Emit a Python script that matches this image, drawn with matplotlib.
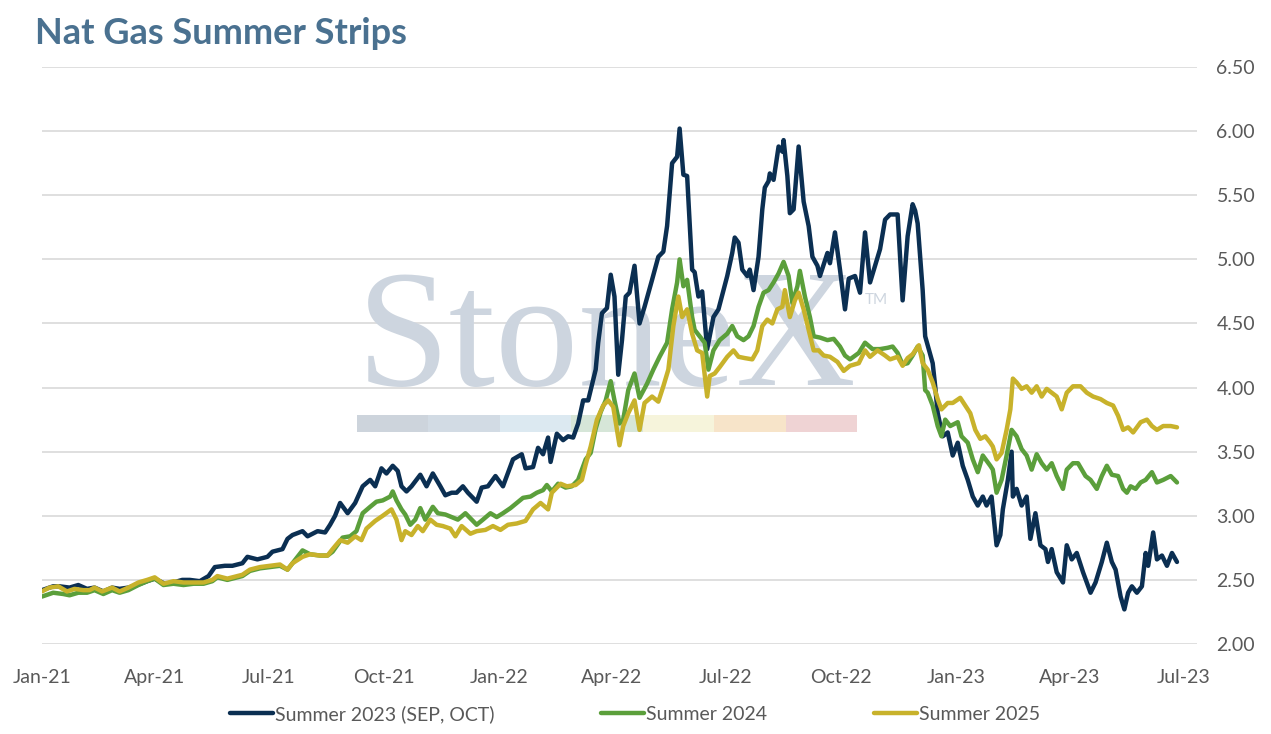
import numpy as np
import pandas as pd
import matplotlib
matplotlib.use("Agg")
import matplotlib.pyplot as plt
import matplotlib.dates as mdates
from matplotlib.patches import Rectangle

# days since 2021-01-01 and strip price ($/MMBtu)
days_23 = [0, 9, 14, 22, 29, 36, 42, 49, 56, 62, 69, 76, 84, 90, 98, 105, 112, 118, 126, 133,
           138, 146, 152, 160, 164, 172, 180, 184, 192, 196, 200, 208, 212, 216, 220, 226, 230, 234, 238, 244,
           250, 256, 262, 266, 271, 275, 280, 284, 287, 291, 295, 302, 307, 312, 318, 322, 327, 331, 336, 340,
           347, 351, 356, 362, 368, 376, 383, 386, 392, 396, 400, 404, 406, 411, 416, 420, 424, 428, 432, 436,
           442, 444, 447, 451, 454, 457, 460, 463, 466, 469, 473, 477, 481, 487, 492, 496, 499, 503, 507, 509,
           512, 515, 519, 521, 524, 527, 531, 536, 540, 547, 551, 553, 556, 559, 563, 565, 568, 572, 575, 577,
           580, 581, 584, 588, 591, 592, 595, 597, 600, 604, 608, 612, 615, 619, 621, 627, 629, 633, 637, 641,
           644, 649, 653, 657, 661, 665, 669, 673, 677, 683, 687, 691, 695, 697, 699, 703, 705, 711, 713, 715,
           719, 723, 727, 731, 735, 739, 743, 747, 751, 754, 758, 762, 765, 767, 771, 774, 775, 778, 782, 786,
           789, 793, 797, 801, 803, 806, 810, 815, 818, 822, 826, 831, 837, 841, 846, 850, 854, 857, 861, 864,
           867, 870, 874, 878, 881, 883, 887, 890, 894, 898, 902, 906]
summer_23 = [2.42, 2.45, 2.45, 2.44, 2.46, 2.43, 2.44, 2.41, 2.44, 2.43, 2.44, 2.46, 2.49, 2.51, 2.47, 2.48, 2.50, 2.50, 2.49, 2.53,
             2.60, 2.61, 2.61, 2.63, 2.68, 2.66, 2.68, 2.72, 2.74, 2.82, 2.85, 2.88, 2.84, 2.86, 2.88, 2.87, 2.93, 3.00, 3.10, 3.02,
             3.10, 3.23, 3.28, 3.23, 3.37, 3.33, 3.39, 3.35, 3.23, 3.19, 3.23, 3.32, 3.23, 3.33, 3.23, 3.16, 3.18, 3.18, 3.23, 3.18,
             3.11, 3.22, 3.23, 3.31, 3.23, 3.44, 3.48, 3.37, 3.38, 3.53, 3.48, 3.61, 3.42, 3.64, 3.59, 3.62, 3.61, 3.72, 3.90, 3.90,
             4.14, 4.35, 4.58, 4.62, 4.88, 4.71, 4.10, 4.37, 4.71, 4.74, 4.95, 4.50, 4.63, 4.84, 5.02, 5.06, 5.26, 5.75, 5.80, 6.02,
             5.66, 5.65, 4.92, 4.90, 4.71, 4.75, 4.30, 4.55, 4.61, 4.87, 5.05, 5.17, 5.13, 4.92, 4.87, 4.92, 4.76, 5.02, 5.39, 5.56,
             5.61, 5.67, 5.62, 5.88, 5.84, 5.93, 5.65, 5.36, 5.39, 5.88, 5.45, 5.26, 5.02, 4.95, 4.87, 5.05, 4.97, 5.21, 4.92, 4.61,
             4.85, 4.87, 4.74, 5.21, 4.82, 4.95, 5.08, 5.31, 5.35, 5.35, 4.68, 5.18, 5.43, 5.38, 5.28, 4.76, 4.40, 4.19, 4.01, 3.80,
             3.62, 3.65, 3.47, 3.57, 3.39, 3.28, 3.15, 3.08, 3.15, 3.08, 3.15, 2.77, 2.85, 3.05, 3.28, 3.50, 3.15, 3.21, 3.08, 3.15,
             2.82, 3.02, 2.77, 2.74, 2.64, 2.74, 2.56, 2.48, 2.77, 2.66, 2.71, 2.56, 2.40, 2.48, 2.64, 2.79, 2.64, 2.58, 2.37, 2.27,
             2.40, 2.45, 2.40, 2.45, 2.71, 2.61, 2.87, 2.66, 2.69, 2.61, 2.71, 2.64]

days_24 = [0, 9, 17, 22, 29, 36, 42, 49, 56, 62, 69, 77, 84, 90, 97, 105, 113, 121, 129, 136,
           140, 148, 156, 160, 166, 174, 182, 190, 196, 200, 208, 214, 222, 228, 232, 240, 246, 251, 256, 262,
           267, 272, 278, 280, 283, 287, 290, 294, 298, 302, 306, 312, 316, 322, 327, 332, 338, 342, 347, 352,
           358, 363, 368, 374, 379, 384, 390, 395, 400, 403, 407, 412, 418, 423, 428, 434, 438, 442, 446, 450,
           454, 457, 461, 464, 468, 473, 477, 483, 488, 493, 499, 503, 507, 509, 512, 515, 519, 521, 525, 529,
           532, 536, 541, 547, 551, 555, 560, 564, 568, 572, 576, 580, 584, 588, 592, 596, 599, 603, 605, 609,
           613, 616, 621, 627, 632, 637, 641, 645, 652, 657, 663, 669, 675, 679, 683, 687, 691, 695, 699, 703,
           705, 707, 711, 715, 718, 721, 725, 731, 734, 739, 743, 747, 751, 757, 759, 762, 766, 770, 774, 778,
           782, 786, 790, 794, 798, 802, 806, 810, 815, 818, 823, 827, 833, 837, 842, 846, 850, 854, 859, 863,
           866, 869, 873, 877, 881, 886, 890, 895, 901, 906]
summer_24 = [2.37, 2.40, 2.39, 2.38, 2.40, 2.40, 2.42, 2.39, 2.42, 2.40, 2.42, 2.46, 2.49, 2.51, 2.46, 2.47, 2.46, 2.47, 2.47, 2.49,
             2.52, 2.50, 2.52, 2.53, 2.57, 2.59, 2.60, 2.61, 2.58, 2.63, 2.73, 2.70, 2.69, 2.69, 2.72, 2.83, 2.84, 2.88, 3.02, 3.07,
             3.11, 3.12, 3.15, 3.19, 3.12, 3.05, 3.01, 2.93, 2.97, 3.06, 2.97, 3.07, 3.02, 3.01, 2.99, 2.97, 3.02, 2.98, 2.93, 2.97,
             3.02, 2.99, 3.02, 3.06, 3.10, 3.14, 3.15, 3.18, 3.20, 3.24, 3.19, 3.25, 3.22, 3.23, 3.28, 3.44, 3.49, 3.68, 3.81, 3.90,
             4.05, 3.90, 3.72, 3.75, 3.98, 4.11, 3.92, 4.03, 4.14, 4.24, 4.35, 4.61, 4.82, 5.00, 4.79, 4.84, 4.55, 4.45, 4.40, 4.35,
             4.14, 4.29, 4.37, 4.42, 4.48, 4.40, 4.37, 4.40, 4.48, 4.63, 4.74, 4.76, 4.82, 4.89, 4.98, 4.87, 4.66, 4.79, 4.91, 4.71,
             4.55, 4.40, 4.39, 4.37, 4.38, 4.32, 4.25, 4.22, 4.27, 4.35, 4.30, 4.30, 4.31, 4.32, 4.27, 4.18, 4.19, 4.25, 4.32, 4.25,
             3.98, 3.96, 3.86, 3.70, 3.62, 3.75, 3.70, 3.73, 3.62, 3.57, 3.44, 3.34, 3.47, 3.39, 3.36, 3.18, 3.28, 3.47, 3.67, 3.62,
             3.52, 3.47, 3.36, 3.48, 3.41, 3.36, 3.41, 3.31, 3.21, 3.36, 3.41, 3.41, 3.31, 3.28, 3.21, 3.31, 3.39, 3.32, 3.31, 3.21,
             3.18, 3.23, 3.21, 3.26, 3.28, 3.34, 3.26, 3.28, 3.31, 3.26]

days_25 = [0, 6, 13, 20, 26, 33, 38, 42, 48, 56, 62, 69, 77, 84, 90, 97, 105, 113, 121, 129,
           136, 140, 148, 156, 160, 166, 174, 182, 190, 196, 200, 208, 214, 222, 228, 232, 238, 244, 250, 255,
           259, 266, 272, 279, 283, 287, 290, 295, 300, 304, 310, 315, 320, 326, 330, 335, 342, 347, 354, 360,
           366, 372, 379, 386, 392, 398, 404, 407, 414, 419, 426, 431, 434, 438, 443, 448, 452, 456, 461, 464,
           468, 473, 477, 481, 487, 492, 496, 500, 504, 508, 511, 515, 519, 523, 527, 531, 533, 537, 541, 547,
           552, 556, 561, 567, 571, 575, 579, 583, 587, 591, 593, 597, 601, 604, 608, 612, 616, 620, 624, 629,
           635, 640, 645, 652, 657, 661, 667, 673, 677, 683, 687, 691, 695, 700, 703, 707, 711, 715, 718, 723,
           727, 733, 737, 741, 745, 749, 753, 757, 759, 762, 766, 770, 773, 775, 778, 782, 786, 790, 794, 798,
           802, 806, 810, 814, 818, 823, 829, 834, 839, 845, 850, 855, 859, 863, 867, 871, 877, 882, 886, 890,
           895, 901, 906]
summer_25 = [2.41, 2.44, 2.45, 2.41, 2.43, 2.42, 2.42, 2.44, 2.41, 2.44, 2.41, 2.44, 2.48, 2.50, 2.52, 2.47, 2.49, 2.48, 2.48, 2.48,
             2.50, 2.53, 2.51, 2.53, 2.54, 2.58, 2.60, 2.61, 2.62, 2.58, 2.63, 2.68, 2.70, 2.69, 2.69, 2.74, 2.81, 2.79, 2.84, 2.81,
             2.90, 2.96, 3.00, 3.05, 2.97, 2.81, 2.88, 2.85, 2.92, 2.88, 2.97, 2.93, 2.92, 2.90, 2.84, 2.92, 2.86, 2.88, 2.89, 2.92,
             2.89, 2.93, 2.94, 2.96, 3.05, 3.10, 3.05, 3.18, 3.25, 3.23, 3.24, 3.28, 3.40, 3.54, 3.75, 3.86, 3.90, 3.85, 3.55, 3.70,
             3.80, 3.90, 3.67, 3.88, 3.93, 3.89, 4.01, 4.14, 4.48, 4.71, 4.55, 4.61, 4.42, 4.29, 4.27, 3.93, 4.09, 4.11, 4.16, 4.24,
             4.29, 4.24, 4.23, 4.22, 4.29, 4.48, 4.53, 4.50, 4.61, 4.63, 4.76, 4.55, 4.68, 4.74, 4.61, 4.45, 4.29, 4.29, 4.25, 4.24,
             4.20, 4.13, 4.17, 4.19, 4.29, 4.24, 4.29, 4.25, 4.22, 4.24, 4.17, 4.23, 4.26, 4.33, 4.19, 4.14, 4.04, 3.91, 3.83, 3.88,
             3.88, 3.92, 3.86, 3.80, 3.67, 3.60, 3.62, 3.57, 3.54, 3.44, 3.49, 3.67, 3.83, 4.07, 4.04, 3.99, 4.01, 3.96, 4.01, 3.93,
             3.99, 3.96, 3.93, 3.83, 3.96, 4.01, 4.01, 3.96, 3.93, 3.91, 3.88, 3.86, 3.78, 3.67, 3.69, 3.65, 3.73, 3.75, 3.70, 3.67,
             3.70, 3.70, 3.69]

labels = ["Summer 2023 (SEP, OCT)", "Summer 2024", "Summer 2025"]
colors = ["#0b2f52", "#5b9f3b", "#c8b22b"]

start = pd.Timestamp("2021-01-01")


def to_dates(days):
    return start + pd.to_timedelta(days, unit="D")


plt.rcParams["font.family"] = ["Lato", "DejaVu Sans"]

fig = plt.figure(figsize=(12.71, 7.34), dpi=100)
ax = fig.add_axes([0.033, 0.1226, 0.9088, 0.7861])

lines = []
for days, vals, lab, col in zip([days_23, days_24, days_25],
                                [summer_23, summer_24, summer_25], labels, colors):
    ln, = ax.plot(to_dates(days), vals, color=col, lw=3.2, label=lab,
                  solid_joinstyle="round", solid_capstyle="round", zorder=3)
    lines.append(ln)

ax.set_ylim(2.0, 6.5)
ax.set_xlim(start, pd.Timestamp("2023-07-12"))
ax.set_yticks(np.arange(2.0, 6.51, 0.5))
ax.yaxis.set_major_formatter(matplotlib.ticker.FormatStrFormatter("%.2f"))
ax.yaxis.tick_right()
ax.xaxis.set_major_locator(mdates.MonthLocator(bymonth=[1, 4, 7, 10]))
ax.xaxis.set_major_formatter(mdates.DateFormatter("%b-%y"))
ax.tick_params(axis="both", length=0, labelsize=14, labelcolor="#595959")
ax.tick_params(axis="y", pad=14)
ax.tick_params(axis="x", pad=18)
ax.grid(axis="y", color="#d9d9d9", lw=1.2, zorder=1)
for s in ax.spines.values():
    s.set_visible(False)

# StoneX watermark
ax.text(0.2727, 0.449, "StoneX", transform=ax.transAxes, family=["Liberation Serif", "DejaVu Serif"],
        fontsize=120, color="#cdd5df", ha="left", va="baseline", zorder=2)
ax.text(0.7126, 0.596, "TM", transform=ax.transAxes, fontsize=11, color="#cdd5df",
        va="center", zorder=2)
bar_colors = ["#cdd4dc", "#d2dbe4", "#dce9f1", "#d6e6d8", "#f6f4db", "#f7e4c9", "#efd3d4"]
seg = (0.7056 - 0.2727) / len(bar_colors)
for i, c in enumerate(bar_colors):
    ax.add_patch(Rectangle((0.2727 + i * seg, 0.3674), seg, 0.0295, transform=ax.transAxes,
                           facecolor=c, edgecolor="none", zorder=2))

fig.text(0.0275, 0.955, "Nat Gas Summer Strips", fontsize=26, fontweight="bold",
         color="#4a7190", ha="left", va="center")

fig.legend(handles=lines, labels=labels, loc="center", bbox_to_anchor=(0.4996, 1 - 714 / 734),
           ncol=3, frameon=False, fontsize=14, handlelength=2.2, handletextpad=0.1,
           columnspacing=5.5, labelcolor="#595959")

fig.savefig("out.png", dpi=100)
